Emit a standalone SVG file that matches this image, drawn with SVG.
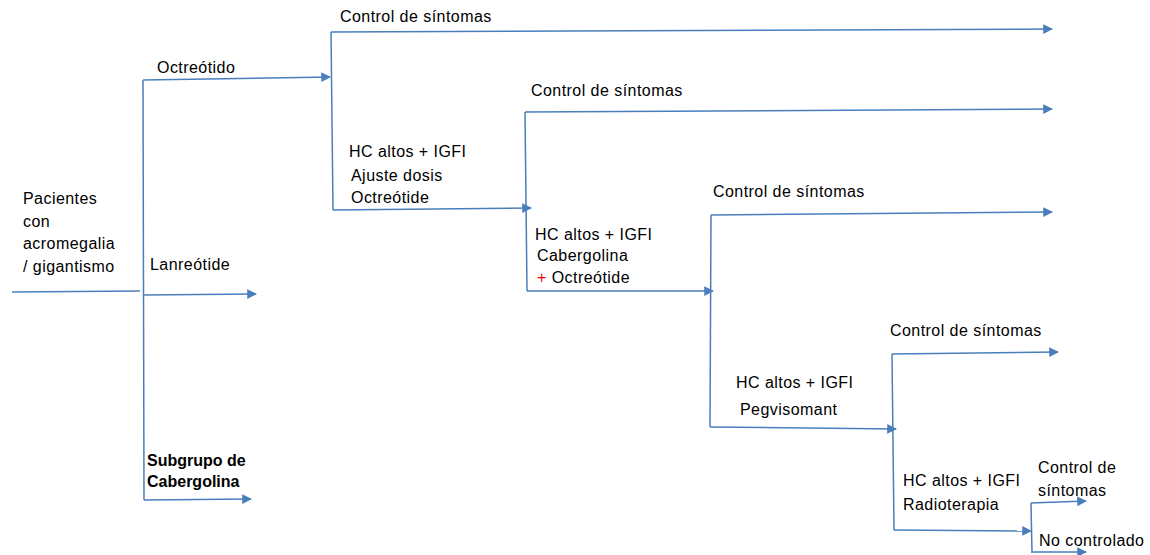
<svg xmlns="http://www.w3.org/2000/svg" width="1150" height="555" viewBox="0 0 1150 555">
<style>
.t{font-family:"Liberation Sans",Arial,sans-serif;font-size:16px;letter-spacing:0.45px;fill:#000}
.b{font-weight:bold;letter-spacing:0px}
.c line,.c polyline{stroke:#4A7EBB;stroke-width:1.5;fill:none}
</style>
<defs>
<marker id="a" viewBox="0 0 10 10" refX="9" refY="5" markerWidth="6.5" markerHeight="6.5" markerUnits="strokeWidth" orient="auto">
<path d="M0,0 L10,5 L0,10 Z" fill="#4A7EBB"/>
</marker>
</defs>
<rect width="1150" height="555" fill="#fff"/>
<g class="c" id="connectors">
<line x1="12" y1="292" x2="140" y2="291"/>
<line x1="143" y1="80" x2="144" y2="500"/>
<line x1="143" y1="80" x2="330" y2="77" marker-end="url(#a)"/>
<line x1="143" y1="295" x2="256" y2="294" marker-end="url(#a)"/>
<line x1="144" y1="500" x2="251" y2="499" marker-end="url(#a)"/>
<line x1="331" y1="32" x2="333" y2="210"/>
<line x1="331" y1="32" x2="1052" y2="29" marker-end="url(#a)"/>
<line x1="333" y1="210" x2="531" y2="208" marker-end="url(#a)"/>
<line x1="525" y1="112" x2="527" y2="291"/>
<line x1="525" y1="112" x2="1052" y2="109" marker-end="url(#a)"/>
<line x1="527" y1="291" x2="713" y2="291" marker-end="url(#a)"/>
<line x1="711" y1="215" x2="710" y2="427"/>
<line x1="711" y1="215" x2="1052" y2="212" marker-end="url(#a)"/>
<line x1="710" y1="427" x2="896" y2="429" marker-end="url(#a)"/>
<line x1="892" y1="354" x2="894" y2="530"/>
<line x1="892" y1="354" x2="1058" y2="352" marker-end="url(#a)"/>
<line x1="894" y1="530" x2="1031" y2="531" marker-end="url(#a)"/>
<line x1="1031" y1="503" x2="1032" y2="553"/>
<line x1="1031" y1="503" x2="1086" y2="501" marker-end="url(#a)"/>
<line x1="1032" y1="552" x2="1086" y2="552" marker-end="url(#a)"/>
</g>
<g id="n-pacientes"><text class="t" x="23" y="204">Pacientes</text><text class="t" x="23" y="227">con</text><text class="t" x="23" y="249">acromegalia</text><text class="t" x="23" y="272">/ gigantismo</text></g>
<g id="n-octreotido"><text class="t" x="157" y="73">Octreótido</text></g>
<g id="n-lanreotide"><text class="t" x="150" y="270">Lanreótide</text></g>
<g id="n-cabergolina"><text class="t b" x="147" y="466">Subgrupo de</text><text class="t b" x="147" y="487">Cabergolina</text></g>
<g id="n-control1"><text class="t" x="340" y="22">Control de síntomas</text></g>
<g id="n-ajuste"><text class="t" x="349" y="157">HC altos + IGFI</text><text class="t" x="351" y="181">Ajuste dosis</text><text class="t" x="351" y="203">Octreótide</text></g>
<g id="n-control2"><text class="t" x="531" y="96">Control de síntomas</text></g>
<g id="n-caber-octreo"><text class="t" x="535" y="240">HC altos + IGFI</text><text class="t" x="537" y="261">Cabergolina</text><text class="t" x="537" y="283"><tspan fill="#FF0000">+</tspan> Octreótide</text></g>
<g id="n-control3"><text class="t" x="713" y="197">Control de síntomas</text></g>
<g id="n-pegvisomant"><text class="t" x="736" y="388">HC altos + IGFI</text><text class="t" x="740" y="415">Pegvisomant</text></g>
<g id="n-control4"><text class="t" x="890" y="336">Control de síntomas</text></g>
<g id="n-radioterapia"><text class="t" x="903" y="486">HC altos + IGFI</text><text class="t" x="903" y="510">Radioterapia</text></g>
<g id="n-control5"><text class="t" x="1038" y="473">Control de</text><text class="t" x="1038" y="496">síntomas</text></g>
<g id="n-nocontrolado"><text class="t" x="1039" y="546">No controlado</text></g>
</svg>
